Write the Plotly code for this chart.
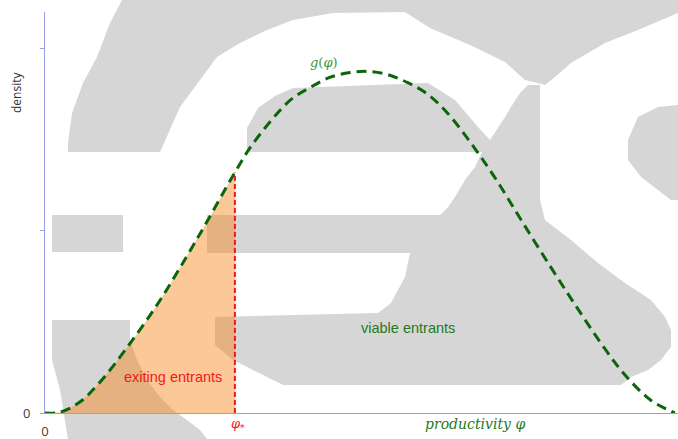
import plotly.graph_objects as go

# Productivity grid and entrant density g(phi)
phi = [0.0, 0.24, 0.55, 0.87, 1.34, 1.82, 2.24, 2.56, 3.0, 3.29, 3.87, 4.19, 4.50,
       4.82, 5.09, 5.40, 5.72, 6.03, 6.35, 6.73, 7.11, 7.52, 7.99, 8.42, 8.85,
       9.16, 9.57, 9.95]
density = [0.0, 0.005, 0.06, 0.17, 0.38, 0.62, 0.86, 1.05, 1.32, 1.48, 1.715,
           1.786, 1.841, 1.868, 1.874, 1.858, 1.814, 1.753, 1.649, 1.48, 1.29,
           1.06, 0.80, 0.57, 0.35, 0.21, 0.07, 0.0]

# Cut-off productivity phi_*
phi_star = 3.0
g_at_star = density[phi.index(phi_star)]

y_tick_vals = [0, 1, 2]
y_zero_label = "0"
x_tick_vals = [0]
x_tick_text = ["0"]

W, H = 678, 439
L, R, T, B = 45, 0, 12, 26
PW, PH = W - L - R, H - T - B

AXIS_COLOR = "#9b9be4"
CURVE_GREEN = "#0b650b"
TEXT_GREEN = "#227a22"
RED = "#f01818"
EMBLEM_GRAY = "#d6d6d6"

# Pale backdrop emblem, outlined in screen pixels and mapped into paper space
emblem = [
    [(122, 0), (110, 23), (97, 57), (83, 83), (72, 113), (68, 143), (68, 152),
     (160, 152), (180, 107), (200, 80), (217, 57), (240, 43), (267, 30),
     (293, 20), (333, 13), (405, 12), (430, 28), (470, 45), (505, 62),
     (525, 80), (545, 85), (555, 77), (571, 63), (605, 43), (638, 30),
     (678, 13), (678, 0)],
    [(247, 152), (247, 128), (258, 108), (275, 96), (293, 88), (428, 83),
     (455, 100), (478, 127), (490, 140), (505, 117), (511, 107), (520, 93),
     (528, 85), (540, 85), (540, 200), (545, 220), (571, 240), (598, 263),
     (625, 283), (651, 300), (665, 317), (671, 330), (671, 347), (661, 360),
     (648, 370), (631, 377), (621, 385), (283, 385), (267, 377), (253, 370),
     (233, 360), (215, 345), (215, 317), (378, 313), (391, 303), (405, 277),
     (410, 253), (207, 253), (207, 215), (440, 215), (448, 207), (455, 197),
     (465, 180), (475, 167), (482, 152)],
    [(52, 215), (123, 215), (123, 252), (52, 252)],
    [(52, 320), (130, 320), (130, 340), (137, 360), (147, 380), (160, 397),
     (173, 410), (187, 420), (200, 430), (207, 439), (68, 439), (60, 390),
     (52, 360)],
    [(678, 105), (658, 107), (638, 117), (628, 140), (628, 160), (641, 177),
     (658, 190), (671, 200), (678, 200)],
]


def to_paper_path(points):
    coords = [f"{(x - L) / PW:.4f},{(H - B - y) / PH:.4f}" for x, y in points]
    return "M " + " L ".join(coords) + " Z"


def px_x(x):
    return (x - L) / PW


def px_y(y):
    return (H - B - y) / PH


shapes = [
    dict(type="path", path=to_paper_path(poly), xref="paper", yref="paper",
         fillcolor=EMBLEM_GRAY, line=dict(width=0), layer="below")
    for poly in emblem
]

fig = go.Figure()

# Exiting entrants: mass of the density below the cut-off
cut = phi.index(phi_star) + 1
fig.add_trace(go.Scatter(
    x=phi[:cut], y=density[:cut], mode="lines",
    line=dict(width=0, shape="spline", smoothing=1.0),
    fill="tozeroy", fillcolor="rgba(250,130,20,0.44)",
    hoverinfo="skip",
))

# Cut-off marker
fig.add_trace(go.Scatter(
    x=[phi_star, phi_star], y=[0, g_at_star], mode="lines",
    line=dict(color=RED, width=2, dash="5px,3px"),
    hoverinfo="skip",
))

# Density curve
fig.add_trace(go.Scatter(
    x=phi, y=density, mode="lines",
    line=dict(color=CURVE_GREEN, width=3, dash="10px,6px",
              shape="spline", smoothing=1.0),
    hoverinfo="skip",
))

annotations = [
    dict(x=2.02, y=0.197, xref="x", yref="y", text="exiting entrants",
         xanchor="center", yanchor="middle", showarrow=False,
         font=dict(family="Liberation Sans", size=14.5, color=RED)),
    dict(x=5.73, y=0.466, xref="x", yref="y", text="viable entrants",
         xanchor="center", yanchor="middle", showarrow=False,
         font=dict(family="Liberation Sans", size=14.5, color=TEXT_GREEN)),
    dict(x=4.41, y=1.923, xref="x", yref="y", text="<i>g</i>(<i>φ</i>)",
         xanchor="center", yanchor="middle", showarrow=False,
         font=dict(family="DejaVu Serif", size=13, color="#3a963a")),
    dict(x=6.79, y=px_y(424), xref="x", yref="paper",
         text="<i>productivity φ</i>", xanchor="center", yanchor="middle",
         showarrow=False,
         font=dict(family="DejaVu Serif", size=14, color=TEXT_GREEN)),
    dict(x=phi_star + 0.05, y=px_y(425), xref="x", yref="paper",
         text="<i>φ</i><sub>*</sub>", xanchor="center", yanchor="middle",
         showarrow=False,
         font=dict(family="DejaVu Serif", size=13, color=RED)),
    dict(x=px_x(17), y=px_y(93), xref="paper", yref="paper",
         text="density", textangle=-90, xanchor="center", yanchor="middle",
         showarrow=False,
         font=dict(family="Open Sans", size=12, color="#333333")),
    dict(x=px_x(26), y=0, xref="paper", yref="y",
         text=y_zero_label, xanchor="center", yanchor="middle",
         showarrow=False,
         font=dict(family="Open Sans", size=13, color="#404040")),
]

fig.update_layout(
    width=W, height=H,
    margin=dict(l=L, r=R, t=T, b=B, pad=0),
    plot_bgcolor="white", paper_bgcolor="white",
    showlegend=False,
    shapes=shapes,
    annotations=annotations,
    xaxis=dict(
        range=[0, 10], showline=True, linecolor=AXIS_COLOR, linewidth=1,
        showgrid=False, zeroline=False,
        tickvals=x_tick_vals, ticktext=x_tick_text, ticks="",
        ticklabelstandoff=6,
        tickfont=dict(family="Open Sans", size=13, color="#404040"),
    ),
    yaxis=dict(
        range=[0, 2.2], showline=True, linecolor=AXIS_COLOR, linewidth=1,
        showgrid=False, zeroline=False,
        tickvals=y_tick_vals, showticklabels=False,
        ticks="outside", ticklen=4, tickcolor=AXIS_COLOR, tickwidth=1,
    ),
)

fig.write_html("out.html")
